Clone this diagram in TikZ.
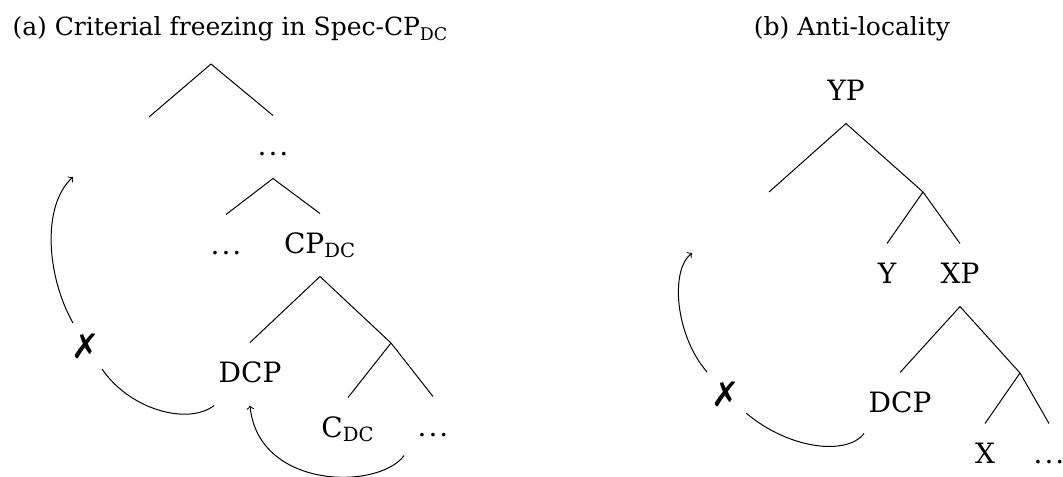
\documentclass[tikz,border=0pt]{standalone}
\usepackage{fontspec}
\setmainfont{DejaVu Serif}
\newfontfamily\symfont{DejaVu Sans}

\newcommand\spreaddots{.\kern1pt.\kern1pt.}

\tikzset{
  lbl/.style={font=\fontsize{14}{16}\selectfont, anchor=base, text height=10pt, text depth=2pt, inner xsep=0pt, inner ysep=9.5pt},
  ttl/.style={font=\fontsize{12.5}{14}\selectfont, inner sep=0pt},
  bad/.style={font=\symfont\fontsize{17}{17}\selectfont, inner sep=0pt},
  mv/.style={->, line width=0.5pt}
}

\begin{document}
\begin{tikzpicture}[x=0.5pt, y=-0.5pt, line width=0.5pt]
        \useasboundingbox (0,0) rectangle (1063,476);

        % Titles
        \node[ttl, anchor=base west] (a-title) at (12,36) {(a) Criterial freezing in Spec-CP\textsubscript{DC}};
        \node[ttl, anchor=base] (b-title) at (852,36) {(b) Anti-locality};

        % Tree (a)
        \coordinate (a-top) at (211,64);
        \coordinate (a-spec) at (149,117);
        \node[lbl] (a-dots1) at (273,155) {\spreaddots};
        \node[lbl] (a-dots2) at (226,254) {\spreaddots};
        \node[lbl] (a-cp) at (320,253) {CP\textsubscript{DC}};
        \coordinate (a-cbar) at (391,343);
        \node[lbl] (a-dcp) at (250,382) {DCP};
        \node[lbl] (a-c) at (348,437) {C\textsubscript{DC}};
        \node[lbl] (a-dots3) at (433,436) {\spreaddots};

        \draw (a-top) -- (a-spec);
        \draw (a-top) -- (a-dots1.north);
        \draw (a-dots1.south) -- (a-dots2.north);
        \draw (a-dots1.south) -- (a-cp.north);
        \draw (a-cp.south) -- (a-dcp.north);
        \draw (a-cp.south) -- (a-cbar);
        \draw (a-cbar) -- (a-c.north);
        \draw (a-cbar) -- (a-dots3.north);

        % Movement in (a)
        \node[bad] (a-bad) at (86,346) {✗};
        \coordinate (a-land) at (73,177);
        \coordinate (a-in) at ([shift={(-13,-23)}]a-bad.center);
        \coordinate (a-out) at ([shift={(16,23)}]a-bad.center);
        \coordinate (a-foot) at ([shift={(-13,-4)}]a-dots3.south west);
        \draw ([xshift=-2pt]a-dcp.south west) .. controls +(-26,20) and +(28,41) .. (a-out);
        \draw[mv] (a-in) .. controls +(-27,-48) and +(-31,28) .. (a-land);
        \draw[mv] (a-foot) .. controls +(-26,35) and +(8,84) .. (a-dcp.south);

        % Tree (b)
        \node[lbl] (b-yp) at (846,100) {YP};
        \coordinate (b-spec) at (769,192);
        \coordinate (b-ybar) at (923,192);
        \node[lbl] (b-y) at (887,283) {Y};
        \node[lbl] (b-xp) at (960,283) {XP};
        \coordinate (b-xbar) at (1020,373);
        \node[lbl] (b-dcp) at (900,412) {DCP};
        \node[lbl] (b-x) at (985,463) {X};
        \node[lbl] (b-dots) at (1049,463) {\spreaddots};

        \draw (b-yp.south) -- (b-spec);
        \draw (b-yp.south) -- (b-ybar);
        \draw (b-ybar) -- (b-y.north);
        \draw (b-ybar) -- (b-xp.north);
        \draw (b-xp.south) -- (b-dcp.north);
        \draw (b-xp.south) -- (b-xbar);
        \draw (b-xbar) -- (b-x.north);
        \draw (b-xbar) -- (b-dots.north);

        % Movement in (b)
        \node[bad] (b-bad) at (726,394) {✗};
        \coordinate (b-land) at (692,253);
        \coordinate (b-in) at ([shift={(-19,-22)}]b-bad.center);
        \coordinate (b-out) at ([shift={(20,19)}]b-bad.center);
        \draw ([shift={(-4,-2)}]b-dcp.south west) .. controls +(-17,22) and +(44,37) .. (b-out);
        \draw[mv] (b-in) .. controls +(-32,-37) and +(-22,17) .. (b-land);
\end{tikzpicture}
\end{document}
